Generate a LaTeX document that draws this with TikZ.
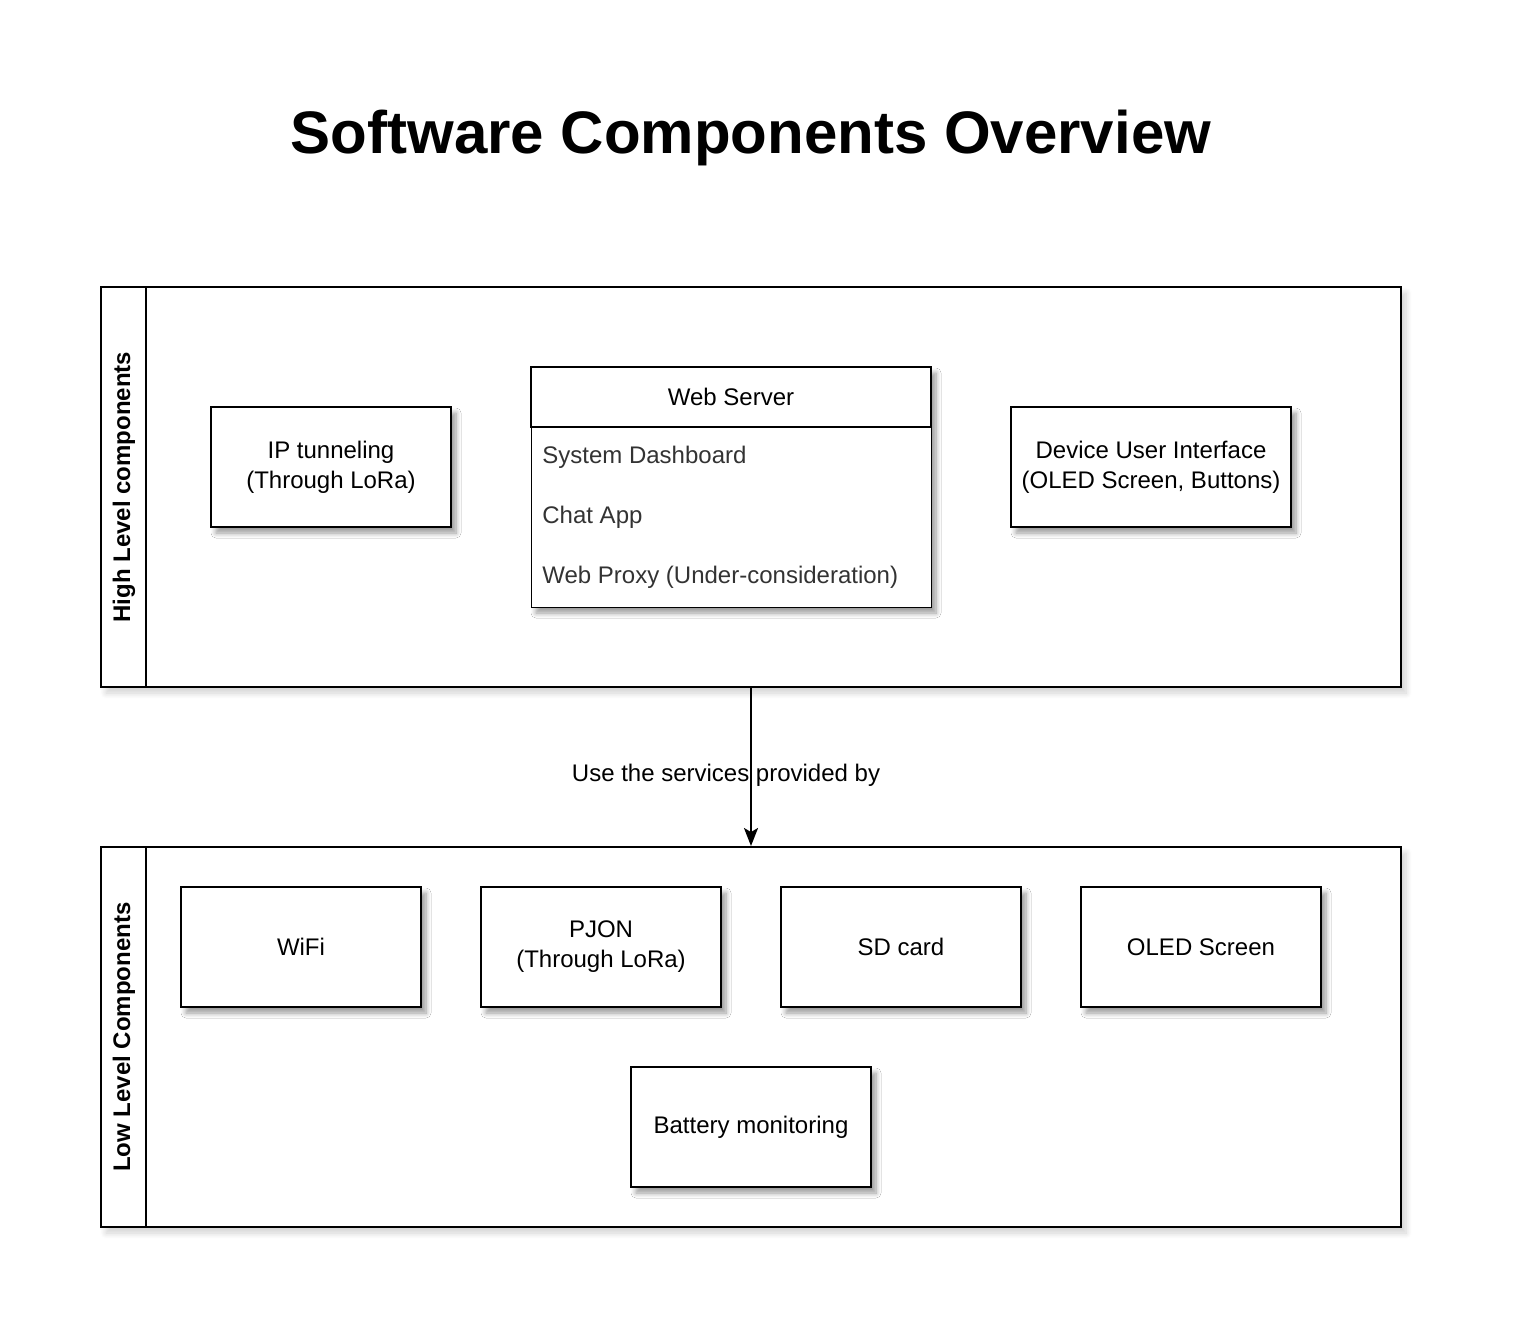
\documentclass[tikz,border=0pt]{standalone}
\usepackage{fontspec}
\setmainfont{Liberation Sans}
\usetikzlibrary{shadows.blur,arrows.meta,calc}
\definecolor{itemgray}{RGB}{51,51,51}
\tikzset{
  boxshadow/.style={blur shadow={shadow xshift=2.5pt, shadow yshift=-3pt, shadow blur radius=2.5pt,
    shadow blur steps=8, shadow opacity=40, shadow blur extra rounding=0pt}},
  poolshadow/.style={blur shadow={shadow xshift=2.5pt, shadow yshift=-3pt, shadow blur radius=3pt,
    shadow blur steps=8, shadow opacity=18}},
  compbox/.style={draw, line width=1pt, fill=white, minimum width=120pt, minimum height=60pt,
    align=center, inner sep=0pt, font=\fontsize{12}{15}\selectfont, boxshadow},
  pool/.style={draw, line width=1pt, fill=white, minimum width=650pt, inner sep=0pt, poolshadow},
  poollabel/.style={rotate=90, font=\fontsize{12}{15}\selectfont\bfseries},
  item/.style={anchor=west, inner sep=0pt, text=itemgray, font=\fontsize{12}{15}\selectfont},
}
\begin{document}
\begin{tikzpicture}[x=0.5pt,y=-0.5pt]
\useasboundingbox (0,0) rectangle (1514,1340);
% title
\node[font=\fontsize{30}{36}\selectfont\bfseries] (title) at (751,138) {Software Components Overview};
% pools
\node[pool, minimum height=200pt] (hl) at (751,487) {};
\node[pool, minimum height=190pt] (ll) at (751,1037) {};
\draw[line width=1pt] ($(hl.north west)+(23pt,0)$) -- ($(hl.south west)+(23pt,0)$);
\draw[line width=1pt] ($(ll.north west)+(23pt,0)$) -- ($(ll.south west)+(23pt,0)$);
\node[poollabel] (hllab) at (124,487) {High Level components};
\node[poollabel] (lllab) at (124,1037) {Low Level Components};
% high level
\node[compbox] (ip) at (331,467) {IP tunneling\\(Through LoRa)};
\node[compbox, minimum width=140pt] (dui) at (1151,467) {Device User Interface\\(OLED Screen, Buttons)};
\node[draw, line width=0.5pt, fill=white, minimum width=200pt, minimum height=120pt, inner sep=0pt, boxshadow] (ws) at (731,487) {};
\node[draw, line width=1pt, fill=white, minimum width=200pt, minimum height=30pt, inner sep=0pt,
  font=\fontsize{12}{15}\selectfont] (wsh) at (731,397) {Web Server};
\node[item] (wsa) at (542,457) {System Dashboard};
\node[item] (wsb) at (542,517) {Chat App};
\node[item] (wsc) at (542,577) {Web Proxy (Under-consideration)};
% low level
\node[compbox] (wifi) at (301,947) {WiFi};
\node[compbox] (pjon) at (601,947) {PJON\\(Through LoRa)};
\node[compbox] (sd) at (901,947) {SD card};
\node[compbox] (oled) at (1201,947) {OLED Screen};
\node[compbox] (bat) at (751,1127) {Battery monitoring};
% connector
\draw[line width=1pt, -{Stealth[length=9pt, width=7pt, inset=2pt]}] (hl.south) -- (ll.north)
  node[pos=0.55, xshift=-12.5pt, font=\fontsize{12}{15}\selectfont] (lab) {Use the services provided by};
\end{tikzpicture}
\end{document}
